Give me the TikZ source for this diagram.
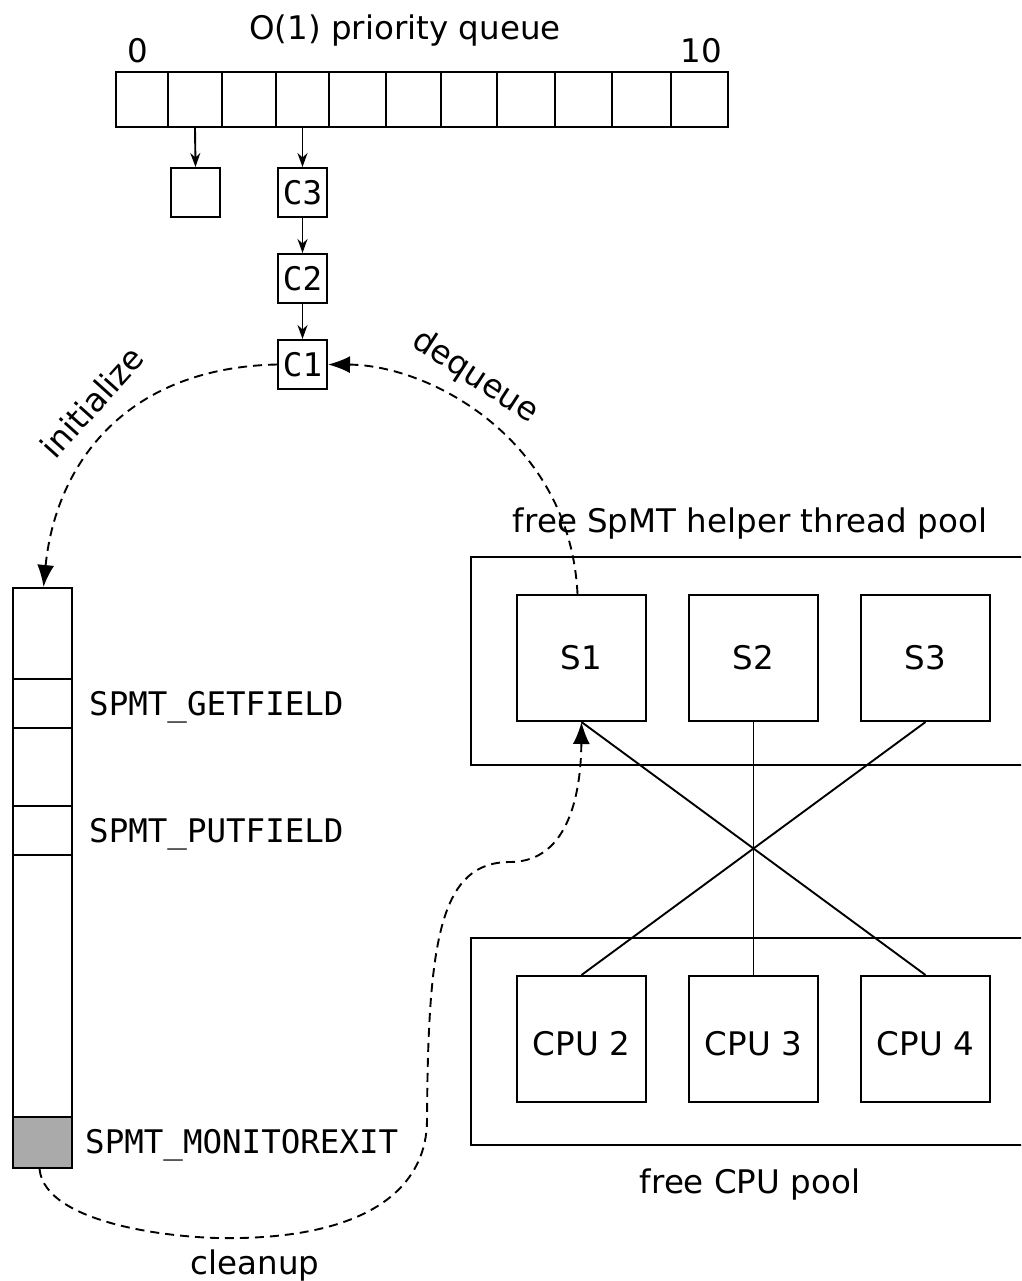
\documentclass[tikz,border=0pt]{standalone}
\usepackage{fontspec}
\setmainfont{DejaVu Sans}
\setmonofont{DejaVu Sans Mono}
\usetikzlibrary{arrows.meta}
\definecolor{monfill}{RGB}{170,170,170}
\tikzset{
  txt/.style={font=\fontsize{32.5}{39}\selectfont, inner sep=0pt},
  mono/.style={font=\ttfamily\fontsize{32.5}{39}\selectfont, inner sep=0pt},
  box/.style={draw, line width=2pt, inner sep=0pt},
  qcell/.style={box, minimum height=55pt},
  chain/.style={box, mono, minimum width=49pt, minimum height=49pt},
  unitbox/.style={box, txt, minimum width=129pt, minimum height=126pt},
  pool/.style={draw, line width=2pt},
  link/.style={line width=1.9pt, -{Stealth[length=14pt,width=10pt]}},
  wire/.style={line width=1.9pt},
  flow/.style={line width=1.9pt, dash pattern=on 9pt off 6pt, -{Latex[length=22pt,width=17pt]}},
}
\newcommand{\lowered}[1]{\raisebox{-5pt}[\height][\depth]{#1}}
\begin{document}
\begin{tikzpicture}[x=1pt,y=-1pt]
\clip (0,0) rectangle (1021,1281);
\fill[white] (0,0) rectangle (1021,1281);

% priority queue array
\node[txt] (qtitle) at (405,31) {O(1) priority queue};
\node[txt] (qlo) at (138,51) {0};
\node[txt] (qhi) at (701,51) {10};
\foreach \a/\b [count=\i from 0] in {116/168,168/222,222/276,276/329,329/386,386/441,441/497,497/555,555/612,612/671,671/728}
  \node[qcell, minimum width={\b-\a}] (q\i) at ({(\a+\b)/2},99.5) {};

% bucket chains
\node[chain] (e1) at (195.5,192.5) {};
\node[chain] (c3) at (302.5,192.5) {C3};
\node[chain] (c2) at (302.5,278.5) {C2};
\node[chain] (c1) at (302.5,364.5) {C1};
\draw[link] (q1.south) -- (e1.north);
\draw[link] (q3.south) -- (c3.north);
\draw[link] (c3) -- (c2);
\draw[link] (c2) -- (c1);

% bytecode stack
\foreach \t/\b [count=\i] in {588/679,679/728,728/806,806/855,855/1117}
  \node[box, minimum width=59pt, minimum height={\b-\t}] (st\i) at (42.5,{(\t+\b)/2}) {};
\node[box, fill=monfill, minimum width=59pt, minimum height=51pt] (st6) at (42.5,1142.5) {};
\node[mono, anchor=west] (getf) at ([xshift=16pt,yshift=-4pt]st2.east) {SPMT\_GETFIELD};
\node[mono, anchor=west] (putf) at ([xshift=16pt,yshift=-4pt]st4.east) {SPMT\_PUTFIELD};
\node[mono, anchor=west] (monx) at ([xshift=12pt,yshift=-3pt]st6.east) {SPMT\_MONITOREXIT};

% thread pool and CPU pool
\node[txt] (tplabel) at (750,524) {free SpMT helper thread pool};
\draw[pool] (1040,557) -- (471,557) -- (471,765) -- (1040,765);
\node[unitbox] (s1) at (581.5,658) {S1};
\node[unitbox] (s2) at (753.5,658) {S2};
\node[unitbox] (s3) at (925.5,658) {S3};

\draw[pool] (1040,938) -- (471,938) -- (471,1145) -- (1040,1145);
\node[unitbox] (cpu2) at (581.5,1039) {\lowered{CPU 2}};
\node[unitbox] (cpu3) at (753.5,1039) {\lowered{CPU 3}};
\node[unitbox] (cpu4) at (925.5,1039) {\lowered{CPU 4}};
\node[txt] (cplabel) at (750,1185) {free CPU pool};

\draw[wire] (s1.south) -- (cpu4.north);
\draw[wire] (s2.south) -- (cpu3.north);
\draw[wire] (s3.south) -- (cpu2.north);

% control flow
\draw[flow] (c1.west) .. controls (120,368) and (55,470) .. ([xshift=1pt]st1.north);
\node[txt, rotate=48] (linit) at (92,402) {initialize};

\draw[flow] ([xshift=-4pt]s1.north) .. controls (570,440) and (430,365) .. (c1.east);
\node[txt, rotate=-33] (ldeq) at (475,377) {dequeue};

\draw[flow] ([xshift=-3pt]st6.south) .. controls (45,1225) and (180,1240) .. (240,1238)
  .. controls (380,1235) and (427,1180) .. (427,1120)
  .. controls (428,940) and (440,862) .. (510,862)
  .. controls (570,862) and (581,790) .. (s1.south);
\node[txt] (lclean) at (255,1266) {cleanup};
\end{tikzpicture}
\end{document}
